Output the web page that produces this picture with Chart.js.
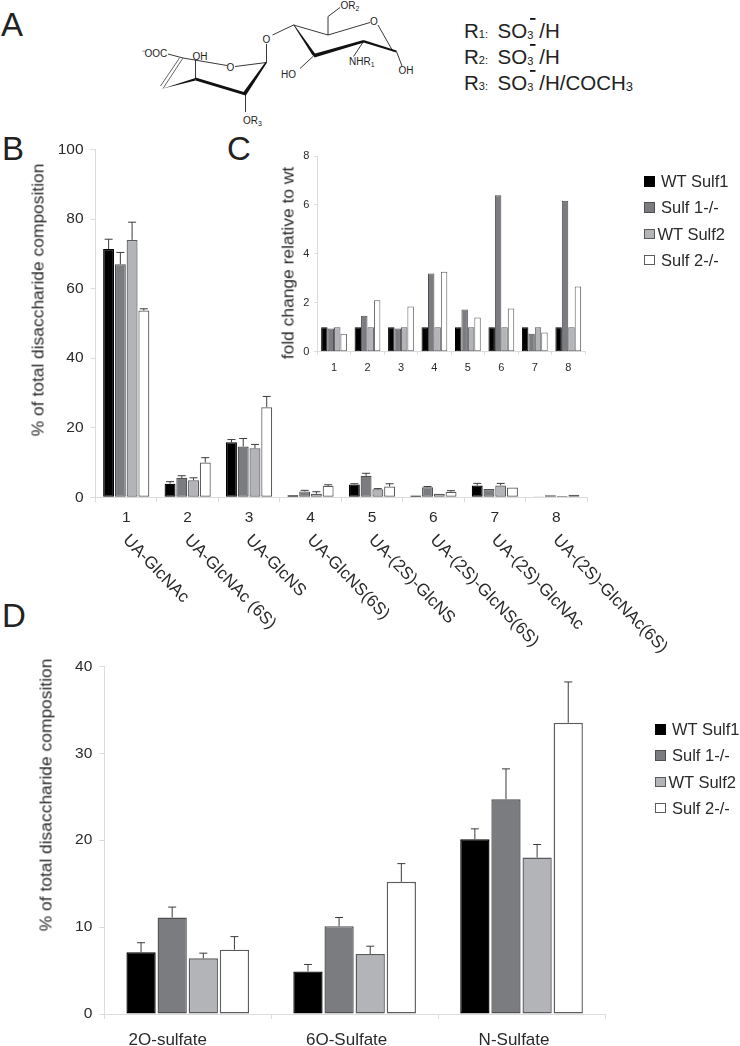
<!DOCTYPE html>
<html>
<head>
<meta charset="utf-8">
<title>Sulf disaccharide composition</title>
<script src="https://cdn.jsdelivr.net/npm/chart.js@4"></script>
<style>
  html, body { margin: 0; background: #fff; }
  #page { position: relative; width: 740px; height: 1046px; overflow: hidden; font-family: "Liberation Sans", Arial, sans-serif; color: #2a2a2a; }
  canvas { position: absolute; }
  .panel { position: absolute; font-size: 33px; line-height: 1; color: #222; }
  .ytitle { position: absolute; font-size: 17.4px; white-space: nowrap; transform: translate(-50%, -50%) rotate(-90deg); }
  .legend { position: absolute; font-size: 16.5px; }
  .legend div { position: relative; height: 26.3px; line-height: 26.3px; white-space: nowrap; padding-left: 17px; }
  .legend i { position: absolute; left: 0; top: 8px; width: 8.5px; height: 8.5px; border: 1px solid #555; }
  .legend div:nth-child(3) { padding-left: 13.5px; }
  svg { position: absolute; left: 0; top: 0; }
</style>
</head>
<body>
<div id="page">
  <svg width="740" height="130" font-family="Liberation Sans, Arial, sans-serif">
    <g stroke="#222" stroke-width="0.9" fill="none">
      <path d="M168 54 L183 58 L227 65.5 M235 66.5 L266.5 62.5" />
      <path d="M183 58 L163 88.5 M179.5 58 L160.5 86" stroke="#555" />
      <path d="M195.5 79 L195.5 60" />
      <path d="M245.5 94 L245.5 112" />
      <path d="M266.5 62.5 L266.5 44" />
      <path d="M272.5 35 L293.5 25 L328 35 L370 22.5 M328 35 L328 16.5 L340 7.5" />
      <path d="M393 51.5 L378 25" />
      <path d="M313.5 56 L300 68.5" />
      <path d="M363.5 41.5 L353.5 56.5" />
      <path d="M396.5 51.5 L402 66" />
    </g>
    <g fill="#111" stroke="none">
      <polygon points="163,88.5 195.5,78 195.5,80.5 163,88.5" />
      <polygon points="195.5,77.5 245.5,92.5 245.5,95.5 195.5,80.5" />
      <polygon points="245.5,96 243.5,92 265.5,62 267,62.5" />
      <polygon points="293.5,25 312,54.5 314.5,57 316,55 294,24.5" />
      <polygon points="313.5,54 363.5,40 364,42.5 314.5,57.5" />
      <polygon points="363.5,40 396.5,50.5 396.5,52.5 363.5,42.5" />
    </g>
    <g fill="#222" font-size="10">
      <text x="141.5" y="57">&#8315;OOC</text>
      <text x="192.5" y="60">OH</text>
      <text x="226.5" y="71">O</text>
      <text x="262.5" y="43">O</text>
      <text x="370" y="25">O</text>
      <text x="340.5" y="9">OR<tspan font-size="7" dy="1.5">2</tspan></text>
      <text x="281" y="78">HO</text>
      <text x="349" y="65">NHR<tspan font-size="7" dy="1.5">1</tspan></text>
      <text x="398.5" y="74">OH</text>
      <text x="243" y="124">OR<tspan font-size="7" dy="1.5">3</tspan></text>
    </g>
    <g fill="#222" font-size="20.5">
      <text x="464" y="37.5">R<tspan font-size="11">1:</tspan></text>
      <text x="497.5" y="37.5">SO<tspan font-size="11" dy="1">3</tspan><tspan dy="-1" dx="6">/H</tspan></text>
      <text x="464" y="63.5">R<tspan font-size="11">2:</tspan></text>
      <text x="497.5" y="63.5">SO<tspan font-size="11" dy="1">3</tspan><tspan dy="-1" dx="6">/H</tspan></text>
      <text x="464" y="89.5">R<tspan font-size="11">3:</tspan></text>
      <text x="497.5" y="89.5">SO<tspan font-size="11" dy="1">3</tspan><tspan dy="-1" dx="6">/H/COCH</tspan><tspan font-size="13" dy="1">3</tspan></text>
    </g>
    <g fill="#111">
      <rect x="530" y="18" width="5.5" height="1.8" />
      <rect x="530" y="44" width="5.5" height="1.8" />
      <rect x="530" y="70" width="5.5" height="1.8" />
    </g>
  </svg>

  <div class="panel" style="left:1px;top:8px">A</div>
  <div class="panel" style="left:2px;top:132px">B</div>
  <div class="panel" style="left:227px;top:132px">C</div>
  <div class="panel" style="left:2px;top:599px">D</div>

  <canvas id="chartB" style="left:0;top:130px"></canvas>
  <canvas id="chartC" style="left:290px;top:140px"></canvas>
  <canvas id="chartD" style="left:0;top:650px"></canvas>

  <div class="ytitle" style="left:38px;top:300px">% of total disaccharide composition</div>
  <div class="ytitle" style="left:288px;top:263px">fold change relative to wt</div>
  <div class="ytitle" style="left:46px;top:795px">% of total disaccharide composition</div>

  <div class="legend" id="legendB" style="left:644px;top:168px"></div>
  <div class="legend" id="legendD" style="left:655px;top:716px"></div>
</div>

<script>
const seriesNames = ['WT Sulf1', 'Sulf 1-/-', 'WT Sulf2', 'Sulf 2-/-'];

// panel B
const numbersB = ['1', '2', '3', '4', '5', '6', '7', '8'];
const namesB = ['UA-GlcNAc', 'UA-GlcNAc (6S)', 'UA-GlcNS', 'UA-GlcNS(6S)', 'UA-(2S)-GlcNS', 'UA-(2S)-GlcNS(6S)', 'UA-(2S)-GlcNAc', 'UA-(2S)-GlcNAc(6S)'];
const wtSulf1B = [71.4, 3.9, 15.8, 0.6, 3.7, 0.5, 3.4, 0.1];
const koSulf1B = [67.0, 5.6, 14.6, 1.7, 6.2, 2.9, 2.4, 0.6];
const wtSulf2B = [74.0, 4.9, 14.1, 1.0, 2.3, 1.0, 3.4, 0.4];
const koSulf2B = [53.7, 10.0, 25.9, 3.3, 3.1, 1.6, 2.8, 0.7];
const wtSulf1ErrB = [2.8, 0.6, 0.8, 0, 0.2, 0, 0.6, 0];
const koSulf1ErrB = [3.4, 0.6, 2.3, 0.3, 0.7, 0.2, 0, 0];
const wtSulf2ErrB = [5.1, 0.7, 1.1, 0.6, 0.2, 0, 0.6, 0];
const koSulf2ErrB = [0.5, 1.4, 3.1, 0.3, 0.8, 0.3, 0, 0];

// panel C
const wtSulf1C = [1, 1, 1, 1, 1, 1, 1, 1];
const koSulf1C = [0.95, 1.47, 0.95, 3.2, 1.73, 6.4, 0.73, 6.17];
const wtSulf2C = [1, 1, 1, 1, 1, 1, 1, 1];
const koSulf2C = [0.73, 2.1, 1.85, 3.27, 1.4, 1.77, 0.78, 2.67];

// panel D
const categoriesD = ['2O-sulfate', '6O-Sulfate', 'N-Sulfate'];
const wtSulf1D = [7.1, 4.9, 20.1];
const koSulf1D = [11.1, 10.1, 24.7];
const wtSulf2D = [6.4, 6.9, 18.0];
const koSulf2D = [7.4, 15.2, 33.5];
const wtSulf1ErrD = [1.1, 0.8, 1.2];
const koSulf1ErrD = [1.2, 1.0, 3.5];
const wtSulf2ErrD = [0.6, 0.9, 1.5];
const koSulf2ErrD = [1.5, 2.1, 4.7];

const fills = ['#000000', '#7b7c80', '#b3b4b8', '#ffffff'];
const edges = ['#000000', '#4f4f52', '#5a5a5c', '#5c5c5c'];
const fontName = '"Liberation Sans", Arial, sans-serif';
const axisColor = '#dcdcdc';
const textColor = '#2a2a2a';

// only the upper whisker is drawn, as in the figure
const errorBars = {
  id: 'errorBars',
  afterDatasetsDraw(chart) {
    const { ctx } = chart;
    const yScale = chart.scales.y;
    chart.data.datasets.forEach((ds, i) => {
      if (!ds.errors) return;
      chart.getDatasetMeta(i).data.forEach((bar, j) => {
        if (!ds.errors[j]) return;
        const top = yScale.getPixelForValue(ds.data[j] + ds.errors[j]);
        ctx.save();
        ctx.strokeStyle = '#3c3c3c';
        ctx.lineWidth = 1;
        ctx.beginPath();
        ctx.moveTo(bar.x, bar.y);
        ctx.lineTo(bar.x, top);
        ctx.moveTo(bar.x - 4, top);
        ctx.lineTo(bar.x + 4, top);
        ctx.stroke();
        ctx.restore();
      });
    });
  }
};

// labels the tick options cannot place: clockwise rotation, per-label shift
const axisLabels = {
  id: 'axisLabels',
  afterDraw(chart, args, opts) {
    if (!opts.texts) return;
    const { ctx } = chart;
    const xScale = chart.scales.x;
    opts.texts.forEach((text, i) => {
      ctx.save();
      ctx.translate(xScale.getPixelForTick(i) + (opts.shift ? opts.shift[i] : opts.dx), xScale.bottom - xScale.height + opts.dy);
      ctx.rotate((opts.angle || 0) * Math.PI / 180);
      ctx.font = opts.size + 'px ' + fontName;
      ctx.fillStyle = textColor;
      ctx.textAlign = opts.align || 'left';
      ctx.textBaseline = 'alphabetic';
      ctx.fillText(text, 0, 0);
      ctx.restore();
    });
  }
};

function makeDatasets(values, errors, borderWidth) {
  return values.map((data, i) => ({
    label: seriesNames[i],
    data: data,
    errors: errors ? errors[i] : null,
    backgroundColor: fills[i],
    borderColor: edges[i],
    borderWidth: borderWidth,
    borderSkipped: false
  }));
}

function makeChart(id, size, box, labels, datasets, bars, yOpts, xOpts, labelOpts) {
  const canvas = document.getElementById(id);
  canvas.width = size[0];
  canvas.height = size[1];
  canvas.style.width = size[0] + 'px';
  canvas.style.height = size[1] + 'px';
  datasets.forEach(ds => {
    ds.categoryPercentage = bars[0];
    ds.barPercentage = bars[1];
  });
  return new Chart(canvas, {
    type: 'bar',
    data: { labels: labels, datasets: datasets },
    plugins: [errorBars, axisLabels],
    options: {
      responsive: false,
      animation: false,
      layout: { padding: { left: 0, top: box.top, right: box.right, bottom: 0 } },
      plugins: { legend: { display: false }, tooltip: { enabled: false }, axisLabels: labelOpts || {} },
      scales: {
        x: {
          afterFit: s => { s.height = box.xHeight; },
          border: { color: axisColor },
          grid: { color: axisColor, drawOnChartArea: false, tickLength: xOpts.tick },
          ticks: { display: xOpts.show, color: textColor, padding: xOpts.pad, maxRotation: 0, font: { family: fontName, size: xOpts.size } }
        },
        y: {
          min: 0,
          max: yOpts.max,
          afterFit: s => { s.width = box.yWidth; },
          border: { color: axisColor },
          grid: { color: axisColor, drawOnChartArea: false, tickLength: yOpts.tick },
          ticks: { stepSize: yOpts.step, color: textColor, padding: yOpts.pad, font: { family: fontName, size: yOpts.size } }
        }
      }
    }
  });
}

makeChart('chartB', [740, 530], { top: 19.5, right: 153, yWidth: 95.5, xHeight: 162.7 },
  numbersB,
  makeDatasets([wtSulf1B, koSulf1B, wtSulf2B, koSulf2B], [wtSulf1ErrB, koSulf1ErrB, wtSulf2ErrB, koSulf2ErrB], 1.2),
  [0.765, 0.93],
  { max: 100, step: 20, size: 15.5, tick: 5, pad: 7 },
  { show: true, size: 15.5, tick: 5, pad: 6 },
  { texts: namesB, dx: -4, dy: 43.5, angle: 46, size: 17 });

makeChart('chartC', [310, 240], { top: 16, right: 15, yWidth: 27.3, xHeight: 28.3 },
  numbersB,
  makeDatasets([wtSulf1C, koSulf1C, wtSulf2C, koSulf2C], null, 1),
  [0.77, 1],
  { max: 8, step: 2, size: 11, tick: 3, pad: 5 },
  { show: true, size: 11, tick: 3, pad: 7 });

makeChart('chartD', [740, 396], { top: 15.7, right: 135, yWidth: 104.3, xHeight: 32 },
  categoriesD,
  makeDatasets([wtSulf1D, koSulf1D, wtSulf2D, koSulf2D], [wtSulf1ErrD, koSulf1ErrD, wtSulf2ErrD, koSulf2ErrD], 1.4),
  [0.746, 0.94],
  { max: 40, step: 10, size: 15.5, tick: 5, pad: 7 },
  { show: false, size: 17, tick: 5, pad: 8 },
  { texts: categoriesD, shift: [-20, -8, -7.5], dy: 31, align: 'center', size: 17 });

['legendB', 'legendD'].forEach(id => {
  const box = document.getElementById(id);
  seriesNames.forEach((name, i) => {
    const row = document.createElement('div');
    const mark = document.createElement('i');
    mark.style.background = fills[i];
    mark.style.borderColor = edges[i];
    row.appendChild(mark);
    row.appendChild(document.createTextNode(name));
    box.appendChild(row);
  });
});
</script>
</body>
</html>
